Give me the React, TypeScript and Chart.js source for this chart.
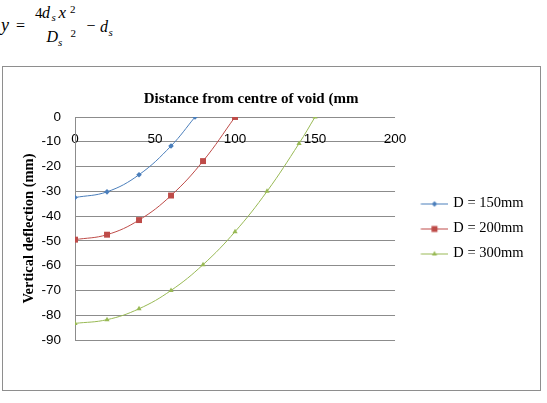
import React, { useEffect, useRef } from 'react';
import { Chart, registerables } from 'chart.js';

Chart.register(...registerables);

// Deflection profiles across the void for three void diameters
const seriesLabels = ['D = 150mm', 'D = 200mm', 'D = 300mm'];

const distance150 = [0, 20, 40, 60, 75];
const deflection150 = [-32.5, -30.2, -23.3, -11.7, 0];

const distance200 = [0, 20, 40, 60, 80, 100];
const deflection200 = [-49.5, -47.5, -41.6, -31.7, -17.8, 0];

const distance300 = [0, 20, 40, 60, 80, 100, 120, 140, 150];
const deflection300 = [-83.3, -81.8, -77.4, -70.0, -59.6, -46.3, -30.0, -10.7, 0];

const xTickValues = [0, 50, 100, 150, 200];
const yTickValues = [0, -10, -20, -30, -40, -50, -60, -70, -80, -90];

const seriesColors = ['#4A7EBB', '#BE4B48', '#98B954'];
const seriesMarkers = ['rectRot', 'rect', 'triangle'];
const seriesRadii = [2.8, 4.2, 3];

const TICK_FONT = { family: '"Liberation Sans", Arial, sans-serif', size: 13.5 };
const SERIF = '"Liberation Serif", "Times New Roman", serif';
const GRID = '#8c8c8c';

function toPoints(xs: number[], ys: number[]) {
  return xs.map((x, i) => ({ x, y: ys[i] }));
}

// Small line-with-marker swatch used as the legend symbol
function makeSwatch(color: string, marker: string): HTMLCanvasElement {
  const c = document.createElement('canvas');
  c.width = 45;
  c.height = 10;
  const ctx = c.getContext('2d')!;
  ctx.strokeStyle = color;
  ctx.fillStyle = color;
  ctx.lineWidth = 1;
  ctx.beginPath();
  ctx.moveTo(17.5, 5.5);
  ctx.lineTo(45, 5.5);
  ctx.stroke();
  const cx = 31.2;
  const cy = 5.5;
  ctx.beginPath();
  if (marker === 'rectRot') {
    ctx.moveTo(cx, cy - 2.8);
    ctx.lineTo(cx + 2.8, cy);
    ctx.lineTo(cx, cy + 2.8);
    ctx.lineTo(cx - 2.8, cy);
    ctx.closePath();
  } else if (marker === 'rect') {
    ctx.rect(cx - 3, cy - 3, 6, 6);
  } else {
    ctx.moveTo(cx, cy - 3);
    ctx.lineTo(cx + 2.6, cy + 1.5);
    ctx.lineTo(cx - 2.6, cy + 1.5);
    ctx.closePath();
  }
  ctx.fill();
  return c;
}

// Nudge the chart title to the right of the plot-area centre
const titleShift = {
  id: 'titleShift',
  afterLayout(chart: any) {
    const tb = chart.titleBlock;
    if (tb) {
      tb.left += 16;
      tb.right += 16;
    }
  },
};

function DeflectionChart() {
  const ref = useRef<HTMLCanvasElement | null>(null);

  useEffect(() => {
    if (!ref.current) return;
    const xs = [distance150, distance200, distance300];
    const ys = [deflection150, deflection200, deflection300];
    const swatches = seriesColors.map((c, i) => makeSwatch(c, seriesMarkers[i]));

    const chart = new Chart(ref.current, {
      type: 'line',
      data: {
        datasets: seriesLabels.map((label, i) => ({
          label,
          data: toPoints(xs[i], ys[i]),
          borderColor: seriesColors[i],
          backgroundColor: seriesColors[i],
          borderWidth: 1,
          pointStyle: seriesMarkers[i] as any,
          pointRadius: seriesRadii[i],
          pointBorderWidth: 0,
          pointBackgroundColor: seriesColors[i],
          tension: 0.4,
          fill: false,
        })),
      },
      options: {
        responsive: false,
        animation: false,
        devicePixelRatio: 1,
        layout: { padding: { left: 13.6, top: 12, bottom: 50, right: 6.5 } },
        scales: {
          x: {
            type: 'linear',
            position: { y: 0 } as any,
            min: 0,
            max: 200,
            afterBuildTicks: (axis: any) => {
              axis.ticks = xTickValues.map((v) => ({ value: v }));
            },
            grid: { display: false, drawTicks: false },
            border: { display: false },
            ticks: { font: TICK_FONT, color: '#000', padding: 14, maxRotation: 0 },
          },
          y: {
            type: 'linear',
            min: -90,
            max: 0,
            afterBuildTicks: (axis: any) => {
              axis.ticks = yTickValues.map((v) => ({ value: v }));
            },
            grid: {
              color: GRID,
              lineWidth: 1,
              drawTicks: true,
              tickLength: 12,
              tickColor: 'rgba(0,0,0,0)',
            },
            border: { color: GRID, width: 1 },
            ticks: { font: TICK_FONT, color: '#000', padding: 2 },
            title: {
              display: true,
              text: 'Vertical deflection (mm)',
              color: '#000',
              font: { family: SERIF, size: 14.5, weight: 'bold' },
              padding: { top: 4, bottom: 1.5 },
            },
          },
        },
        plugins: {
          title: {
            display: true,
            text: 'Distance from centre of void (mm',
            color: '#000',
            fullSize: false,
            font: { family: SERIF, size: 15, weight: 'bold' },
            padding: { top: 11, bottom: 9 },
          },
          legend: {
            position: 'right',
            fullSize: false,
            maxWidth: 200,
            labels: {
              usePointStyle: true,
              pointStyleWidth: 40.5,
              padding: 10.5,
              color: '#000',
              font: { family: SERIF, size: 14.5 },
              generateLabels: () =>
                seriesLabels.map((text, i) => ({
                  text,
                  pointStyle: swatches[i] as any,
                  fillStyle: seriesColors[i],
                  strokeStyle: seriesColors[i],
                  lineWidth: 0,
                  hidden: false,
                  datasetIndex: i,
                  fontColor: '#000',
                })),
            },
          },
          tooltip: { enabled: false },
        },
      },
      plugins: [titleShift],
    });
    return () => chart.destroy();
  }, []);

  return <canvas ref={ref} width={537} height={323} style={{ display: 'block' }} />;
}

// One glyph of the deflection formula, placed by its left edge and baseline
function G(props: { x: number; base: number; size: number; italic?: boolean; children: React.ReactNode }) {
  const { x, base, size, italic, children } = props;
  return (
    <span
      style={{
        position: 'absolute',
        left: x,
        top: base - 0.8375 * size,
        fontFamily: SERIF,
        fontSize: size,
        lineHeight: `${size}px`,
        fontStyle: italic ? 'italic' : 'normal',
        whiteSpace: 'nowrap',
        color: '#000',
      }}
    >
      {children}
    </span>
  );
}

export default function App() {
  return (
    <div style={{ position: 'absolute', left: 0, top: 0, width: 547, height: 403, background: '#fff' }}>
      {/* y = 4 d_s x^2 / D_s^2 - d_s */}
      <G x={1} base={31.5} size={18} italic>y</G>
      <G x={16} base={31.5} size={16}>=</G>
      <G x={35} base={18.3} size={15}>4</G>
      <G x={42} base={18.3} size={16} italic>d</G>
      <G x={51.5} base={21.5} size={11} italic>s</G>
      <G x={58.5} base={18.3} size={17} italic>x</G>
      <G x={70} base={13.5} size={11}>2</G>
      <G x={46.5} base={42} size={16} italic>D</G>
      <G x={58} base={46.5} size={11} italic>s</G>
      <G x={70.5} base={37.5} size={11}>2</G>
      <G x={86.5} base={31.5} size={16}>−</G>
      <G x={100} base={32.5} size={16} italic>d</G>
      <G x={108.5} base={36.5} size={11} italic>s</G>

      <div
        style={{
          position: 'absolute',
          left: 2,
          top: 66,
          width: 537,
          height: 323,
          border: '1px solid #8e8e8e',
        }}
      >
        <DeflectionChart />
      </div>
    </div>
  );
}
